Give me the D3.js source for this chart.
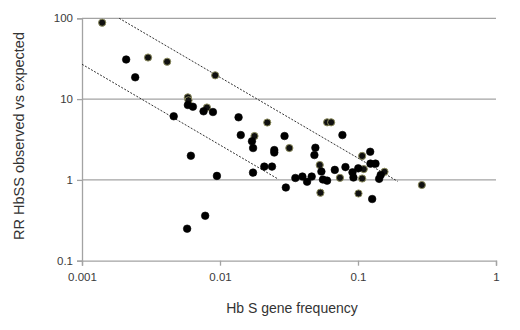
<!DOCTYPE html>
<html>
<head>
<meta charset="utf-8">
<script src="https://cdn.jsdelivr.net/npm/d3@7"></script>
<style>
  body { margin: 0; background: #fff; }
  svg text { font-family: "Liberation Sans", Arial, sans-serif; }
</style>
</head>
<body>
<svg id="chart"></svg>
<script>
// Hb S gene frequency vs RR HbSS observed/expected
// black markers
const blackPoints = [
    [0.00209, 30.9], [0.00243, 18.6], [0.00462, 6.13], [0.00585, 8.45], [0.00636, 8.05],
    [0.0076, 7.06], [0.00889, 6.92], [0.01363, 5.95], [0.01414, 3.59], [0.01705, 3.01],
    [0.01737, 2.48], [0.00615, 1.99], [0.0095, 1.12], [0.01735, 1.23], [0.00781, 0.36],
    [0.00578, 0.249], [0.02935, 3.49], [0.02474, 2.34], [0.02474, 2.18], [0.02094, 1.46],
    [0.02381, 1.46], [0.030, 0.805], [0.03516, 1.056], [0.03953, 1.10], [0.04276, 0.95],
    [0.04618, 1.10], [0.0771, 3.59], [0.04911, 2.50], [0.04831, 2.03], [0.0543, 1.27],
    [0.0557, 1.01], [0.0597, 0.979], [0.0679, 1.33], [0.0811, 1.44], [0.0912, 1.24],
    [0.0927, 1.07], [0.1004, 1.39], [0.1226, 2.23], [0.1231, 1.59], [0.1339, 1.59],
    [0.146, 1.15], [0.1423, 1.03], [0.1267, 0.58]
];
// olive-rimmed markers
const olivePoints = [
    [0.0014, 88.2], [0.00301, 32.7], [0.00414, 29.0], [0.00923, 19.7], [0.00585, 10.5],
    [0.00591, 9.66], [0.00804, 7.87], [0.01778, 3.49], [0.0220, 5.13], [0.0318, 2.48],
    [0.05974, 5.16], [0.06386, 5.16], [0.0528, 1.53], [0.0740, 1.06], [0.1101, 1.36],
    [0.1072, 1.98], [0.1072, 1.04], [0.1556, 1.26], [0.0534, 0.694], [0.1008, 0.679],
    [0.290, 0.865]
];
// dotted bounds: RR = k / freq
const upperBound = [[0.00186, 100], [0.194, 0.96]];
const lowerBound = [[0.001, 27], [0.0265, 1.02]];

const xTicks = [0.001, 0.01, 0.1, 1];
const xTickLabels = ["0.001", "0.01", "0.1", "1"];
const yTicks = [0.1, 1, 10, 100];
const yTickLabels = ["0.1", "1", "10", "100"];

const width = 520, height = 330;
const margin = { top: 18.3, right: 24, bottom: 69.3, left: 82 };
const plotW = width - margin.left - margin.right;
const plotH = height - margin.top - margin.bottom;

const svg = d3.select("#chart")
    .attr("width", width)
    .attr("height", height)
    .attr("viewBox", [0, 0, width, height]);

const x = d3.scaleLog().domain([0.001, 1]).range([0, plotW]);
const y = d3.scaleLog().domain([0.1, 100]).range([plotH, 0]);

const g = svg.append("g")
    .attr("transform", `translate(${margin.left},${margin.top})`);

// horizontal grid lines
g.selectAll("line.grid")
    .data(yTicks.slice(1))
    .join("line")
    .attr("class", "grid")
    .attr("x1", 0)
    .attr("x2", plotW)
    .attr("y1", d => y(d))
    .attr("y2", d => y(d))
    .attr("stroke", "#a3a3a3")
    .attr("stroke-width", 1.3);

// y axis
const yAxis = g.append("g")
    .call(d3.axisLeft(y).tickValues(yTicks)
        .tickFormat((d, i) => yTickLabels[i]).tickSize(5).tickPadding(4));
yAxis.select(".domain").attr("stroke", "#a3a3a3").attr("stroke-width", 1.3);
yAxis.selectAll(".tick line").attr("stroke", "#a3a3a3").attr("stroke-width", 1.3);
yAxis.selectAll(".tick text")
    .attr("fill", "#3a3a3a")
    .style("font-size", "11.5px");

// x axis
const xAxis = g.append("g")
    .attr("transform", `translate(0,${plotH})`)
    .call(d3.axisBottom(x).tickValues(xTicks)
        .tickFormat((d, i) => xTickLabels[i]).tickSize(5).tickPadding(7));
xAxis.select(".domain").attr("stroke", "#a3a3a3").attr("stroke-width", 1.3);
xAxis.selectAll(".tick line").attr("stroke", "#a3a3a3").attr("stroke-width", 1.3);
xAxis.selectAll(".tick text")
    .attr("fill", "#3a3a3a")
    .style("font-size", "11.5px");

// dotted bound lines
const line = d3.line().x(d => x(d[0])).y(d => y(d[1]));
[upperBound, lowerBound].forEach(b => {
    g.append("path")
        .attr("d", line(b))
        .attr("fill", "none")
        .attr("stroke", "#333")
        .attr("stroke-width", 1)
        .attr("stroke-dasharray", "2,1.5");
});

// markers
g.selectAll("circle.olive")
    .data(olivePoints)
    .join("circle")
    .attr("class", "olive")
    .attr("cx", d => x(d[0]))
    .attr("cy", d => y(d[1]))
    .attr("r", 3.6)
    .attr("fill", "#111")
    .attr("stroke", "#8a8a5c")
    .attr("stroke-width", 1);

g.selectAll("circle.black")
    .data(blackPoints)
    .join("circle")
    .attr("class", "black")
    .attr("cx", d => x(d[0]))
    .attr("cy", d => y(d[1]))
    .attr("r", 3.8)
    .attr("fill", "#000")
    .attr("stroke", "#000")
    .attr("stroke-width", 0.6);

// axis titles
svg.append("text")
    .attr("transform", "translate(24,136) rotate(-90)")
    .attr("text-anchor", "middle")
    .attr("fill", "#333")
    .style("font-size", "14.5px")
    .text("RR HbSS observed vs expected");

svg.append("text")
    .attr("x", 292)
    .attr("y", 313)
    .attr("text-anchor", "middle")
    .attr("fill", "#333")
    .style("font-size", "14px")
    .text("Hb S gene frequency");
</script>
</body>
</html>
